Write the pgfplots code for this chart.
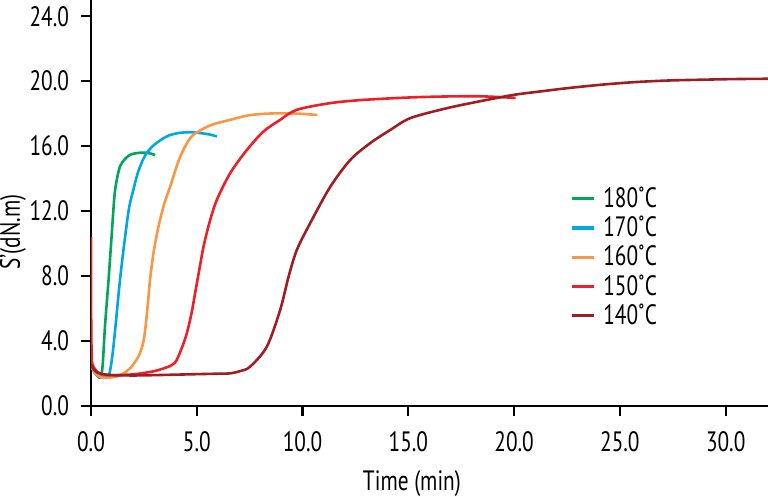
\documentclass[border=0pt]{standalone}
\usepackage{pgfplots}
\pgfplotsset{compat=1.18}
\usepackage{fontspec}
\setmainfont{PT Sans}[FakeStretch=0.76]
\definecolor{cgreen}{RGB}{0,166,90}
\definecolor{cblue}{RGB}{0,168,225}
\definecolor{corange}{RGB}{248,152,70}
\definecolor{cred}{RGB}{236,32,40}
\definecolor{cdred}{RGB}{158,30,36}
\newcommand{\lblfont}{\fontsize{14}{16}\selectfont}
\begin{document}
\begin{tikzpicture}
\begin{axis}[
  name=ax,
  scale only axis, width=338.5pt, height=203pt,
  xmin=0, xmax=32, ymin=0, ymax=25,
  axis x line*=bottom, axis y line*=left,
  axis line style={line width=1.1pt,-},
  tick style={line width=1.1pt, black},
  tick align=outside, major tick length=5pt,
  xtick={0,5,...,30}, ytick={0,4,...,24},
  /pgf/number format/fixed, /pgf/number format/fixed zerofill,
  /pgf/number format/precision=1, /pgf/number format/assume math mode=true,
  tick label style={font=\lblfont},
  xticklabel style={yshift=-4pt},
  yticklabel style={xshift=-2.5pt},
  xlabel={Time (min)}, ylabel={S’(dN.m)},
  every axis x label/.style={at={(axis description cs:0.474,0)}, anchor=base, yshift=-42.3pt, font=\lblfont},
  every axis y label/.style={at={(axis description cs:-0.1152,0.4286)}, rotate=90, anchor=center, font=\lblfont},
  legend style={draw=none, fill=none, at={(0.6987,0.56)}, anchor=north west, font=\lblfont, row sep=-1.2pt},
  legend cell align=left,
  legend image code/.code={\draw[#1, line width=1.6pt] (-3pt,0pt) -- (8pt,0pt); \path (10pt,0pt);},
  every axis plot/.append style={line width=1.3pt},
]
\addplot[cgreen, smooth] coordinates {(0,2.6)(0.15,2.1)(0.3,1.85)(0.45,1.75)(0.55,2.5)(0.66,4.9)(0.82,7.6)(0.95,10.0)(1.1,12.8)(1.2,13.8)(1.37,14.75)(1.6,15.2)(1.85,15.47)(2.2,15.58)(2.56,15.6)(2.8,15.55)(3.03,15.45)};
\addplot[cblue, smooth] coordinates {(0,2.5)(0.2,2.0)(0.4,1.8)(0.65,1.75)(0.85,1.9)(1.0,3.0)(1.15,4.8)(1.37,7.76)(1.6,10.3)(1.8,12.2)(2.0,13.3)(2.2,14.3)(2.4,15.0)(2.63,15.57)(3.0,16.1)(3.58,16.6)(4.1,16.8)(4.69,16.86)(5.2,16.8)(5.6,16.72)(5.95,16.6)};
\addplot[corange, smooth] coordinates {(0,2.5)(0.2,2.0)(0.5,1.75)(0.9,1.75)(1.3,1.85)(1.53,2.0)(1.9,2.4)(2.24,3.04)(2.45,3.8)(2.56,4.68)(2.68,6.2)(2.79,7.76)(2.95,9.4)(3.19,11.05)(3.45,12.4)(3.74,13.5)(4.2,15.3)(4.69,16.5)(5.2,17.0)(5.79,17.35)(6.58,17.62)(7.37,17.88)(8.15,17.99)(8.94,18.02)(9.8,18.0)(10.7,17.92)};
\addplot[cred, smooth] coordinates {(0.03,2.8)(0.1,2.45)(0.3,2.1)(0.6,1.95)(1.0,1.9)(2.0,1.95)(3.0,2.15)(3.66,2.42)(3.9,2.6)(4.05,2.83)(4.3,3.6)(4.53,4.48)(4.75,5.7)(4.92,6.94)(5.12,8.4)(5.32,9.82)(5.6,11.3)(5.95,12.7)(6.58,14.34)(7.37,15.77)(8.15,16.9)(8.94,17.62)(9.73,18.24)(11.31,18.65)(12.89,18.85)(15.1,19.0)(16.83,19.06)(18.41,19.07)(20.07,18.97)};
\addplot[cdred, smooth] coordinates {(0,2.6)(0.1,2.3)(0.3,2.05)(0.6,1.95)(1.0,1.9)(2.0,1.88)(3.0,1.9)(4.0,1.93)(5.0,1.96)(6.0,1.99)(6.58,2.01)(7.05,2.15)(7.52,2.42)(8.31,3.65)(8.94,5.91)(9.34,7.97)(9.73,9.61)(10.36,11.26)(11.31,13.5)(12.26,15.16)(13.2,16.19)(14.15,17.0)(15.1,17.73)(16.83,18.34)(18.41,18.77)(19.99,19.16)(21.25,19.37)(22.51,19.57)(24.09,19.78)(25.66,19.94)(27.24,20.04)(28.82,20.09)(30.4,20.13)(32,20.15)};
\addplot[cred, forget plot] coordinates {(0,10.4)(0.01,5.0)(0.03,2.8)};
\legend{180˚C,170˚C,160˚C,150˚C,140˚C}
\end{axis}
\pgfresetboundingbox
\path (ax.south west) ++(-45.5pt,-45pt) rectangle (ax.north east);
\end{tikzpicture}
\end{document}
